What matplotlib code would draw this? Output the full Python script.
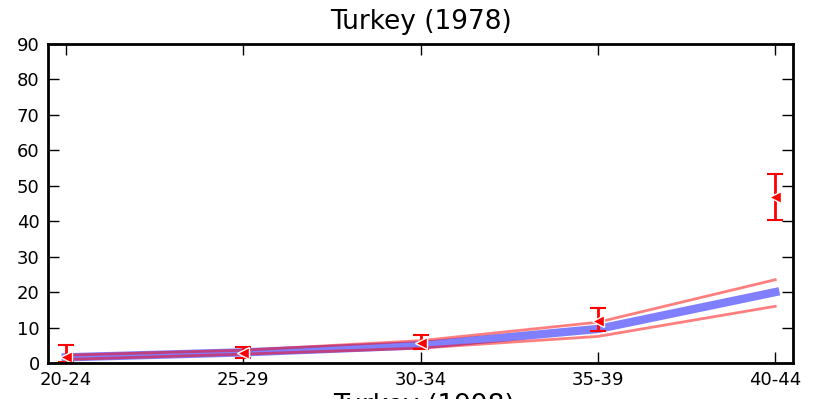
import numpy as np
import matplotlib.pyplot as plt

#%% Data:

age_groups = ['20-24', '25-29', '30-34', '35-39', '40-44']
model_mean = [1.6, 3.0, 5.0, 9.6, 20.0]
model_upper = [2.2, 3.6, 6.3, 11.5, 23.5]
model_lower = [1.0, 2.5, 4.2, 7.5, 16.0]
obs_value = [1.7, 2.8, 5.6, 11.9, 46.9]
obs_high = [5.1, 4.5, 7.9, 15.6, 53.3]
obs_low = [0.3, 1.4, 4.0, 9.1, 40.3]

#%% Plotting:

x = np.arange(len(age_groups))
obs_value = np.array(obs_value)
yerr = [obs_value - np.array(obs_low), np.array(obs_high) - obs_value]

fig = plt.figure(figsize=(8.18, 3.99), dpi=100)
ax = fig.add_axes([48/818, 36/399, 745/818, 319/399])

ax.plot(x, model_mean, 'b', lw=6, alpha=0.5)
ax.plot(x, model_upper, 'r', lw=2, alpha=0.5)
ax.plot(x, model_lower, 'r', lw=2, alpha=0.5)
ax.errorbar(x, obs_value, yerr=yerr, fmt='<', color='r', mec='w',
            ms=9, ecolor='r', elinewidth=2, capsize=6, capthick=1.5)

ax.set_xlim(-0.1, 4.1)
ax.set_ylim(0, 90)
ax.set_xticks(x)
ax.set_xticklabels(age_groups)
ax.set_yticks(np.arange(0, 91, 10))
ax.tick_params(direction='in', top=True, right=True, length=8,
               width=1, labelsize=13, pad=6)
for sp in ax.spines.values():
    sp.set_linewidth(2)
ax.set_title('Turkey (1978)', fontsize=19, pad=11)

# title of the next panel, cut off at the bottom edge
fig.text(0.518, -0.034, 'Turkey (1998)', fontsize=19, ha='center',
         va='baseline')

fig.savefig('out.png', dpi=100)
